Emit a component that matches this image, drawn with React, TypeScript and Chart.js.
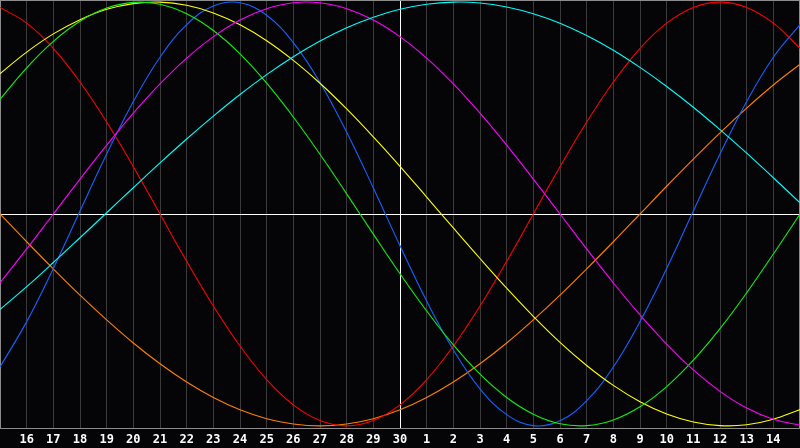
import { useEffect, useRef } from 'react';
import { Chart, registerables } from 'chart.js';

Chart.register(...registerables);

// Day index 0..30 (0 = the 15th of the previous month, 15 = today, the 30th)
const DAY_INDEX = [0, 1, 2, 3, 4, 5, 6, 7, 8, 9, 10, 11, 12, 13, 14, 15, 16, 17, 18, 19, 20, 21, 22, 23, 24, 25, 26, 27, 28, 29, 30];
const DAY_LABELS = ['15', '16', '17', '18', '19', '20', '21', '22', '23', '24', '25', '26', '27', '28', '29', '30', '1', '2', '3', '4', '5', '6', '7', '8', '9', '10', '11', '12', '13', '14', '15'];
const TODAY_INDEX = 15;

// Cycle values (-1 .. 1)
const PHYSICAL = [-0.722, -0.508, -0.257, 0.014, 0.283, 0.531, 0.74, 0.894, 0.982, 0.997, 0.938, 0.809, 0.621, 0.386, 0.123, -0.15, -0.411, -0.641, -0.825, -0.947, -0.999, -0.976, -0.881, -0.722, -0.508, -0.257, 0.014, 0.283, 0.531, 0.74, 0.894];
const EMOTIONAL = [0.975, 0.901, 0.782, 0.623, 0.434, 0.223, 0, -0.223, -0.434, -0.623, -0.782, -0.901, -0.975, -1, -0.975, -0.901, -0.782, -0.623, -0.434, -0.223, 0, 0.223, 0.434, 0.623, 0.782, 0.901, 0.975, 1, 0.975, 0.901, 0.782];
const INTELLECTUAL = [0.541, 0.69, 0.815, 0.91, 0.972, 0.999, 0.99, 0.945, 0.866, 0.756, 0.618, 0.458, 0.282, 0.095, -0.095, -0.282, -0.458, -0.618, -0.756, -0.866, -0.945, -0.99, -0.999, -0.972, -0.91, -0.815, -0.69, -0.541, -0.372, -0.189, 0];
const INTUITIVE = [-0.325, -0.165, 0, 0.165, 0.325, 0.476, 0.614, 0.736, 0.837, 0.916, 0.969, 0.997, 0.997, 0.969, 0.916, 0.837, 0.736, 0.614, 0.476, 0.325, 0.165, 0, -0.165, -0.325, -0.476, -0.614, -0.736, -0.837, -0.916, -0.969, -0.997];
const AESTHETIC = [0.662, 0.764, 0.85, 0.917, 0.966, 0.993, 1, 0.985, 0.949, 0.893, 0.818, 0.725, 0.617, 0.496, 0.364, 0.225, 0.08, -0.066, -0.21, -0.35, -0.483, -0.606, -0.715, -0.809, -0.886, -0.944, -0.982, -0.999, -0.995, -0.969, -0.923];
const AWARENESS = [0, -0.131, -0.259, -0.383, -0.5, -0.609, -0.707, -0.793, -0.866, -0.924, -0.966, -0.991, -1, -0.991, -0.966, -0.924, -0.866, -0.793, -0.707, -0.609, -0.5, -0.383, -0.259, -0.131, 0, 0.131, 0.259, 0.383, 0.5, 0.609, 0.707];
const SPIRITUAL = [-0.451, -0.343, -0.229, -0.112, 0.006, 0.124, 0.241, 0.354, 0.462, 0.564, 0.658, 0.742, 0.816, 0.879, 0.929, 0.966, 0.99, 1, 0.996, 0.977, 0.945, 0.9, 0.842, 0.773, 0.692, 0.602, 0.504, 0.398, 0.287, 0.171, 0.053];

const SERIES = [
  { name: 'Spiritual', values: SPIRITUAL, color: '#00ffff' },
  { name: 'Intuitive', values: INTUITIVE, color: '#ff00ff' },
  { name: 'Intellectual', values: INTELLECTUAL, color: '#10f010' },
  { name: 'Aesthetic', values: AESTHETIC, color: '#ffff00' },
  { name: 'Emotional', values: EMOTIONAL, color: '#ff0000' },
  { name: 'Physical', values: PHYSICAL, color: '#1464ff' },
  { name: 'Awareness', values: AWARENESS, color: '#ff8000' },
];

const framePlugin = {
  id: 'frame',
  beforeDatasetsDraw(chart: any) {
    const { ctx, chartArea } = chart;
    ctx.save();
    ctx.strokeStyle = '#8c8c8c';
    ctx.lineWidth = 1;
    ctx.strokeRect(chartArea.left + 0.5, chartArea.top + 0.5, chartArea.right - chartArea.left - 1, chartArea.bottom - chartArea.top);
    ctx.restore();
  },
};

export default function App() {
  const canvasRef = useRef<HTMLCanvasElement | null>(null);

  useEffect(() => {
    document.body.style.margin = '0';
    const canvas = canvasRef.current;
    if (!canvas) return;
    const chart = new Chart(canvas, {
      type: 'line',
      data: {
        datasets: SERIES.map((s) => ({
          label: s.name,
          data: DAY_INDEX.map((x, k) => ({ x, y: s.values[k] })),
          borderColor: s.color,
          borderWidth: 1.1,
          pointRadius: 0,
          fill: false,
          tension: 0.4,
        })),
      },
      options: {
        animation: false,
        responsive: false,
        maintainAspectRatio: false,
        layout: { padding: 0 },
        plugins: { legend: { display: false }, tooltip: { enabled: false } },
        scales: {
          x: {
            type: 'linear',
            min: 0,
            max: 30,
            afterFit: (s: any) => {
              s.height = 20;
              s.paddingLeft = 0;
              s.paddingRight = 0;
            },
            border: { display: false },
            grid: {
              drawTicks: false,
              lineWidth: 1,
              color: (ctx: any) => {
                const v = ctx.tick ? ctx.tick.value : -1;
                if (v === TODAY_INDEX) return '#ffffff';
                if (v === 0 || v === 30) return 'rgba(0,0,0,0)';
                return '#3a3a3a';
              },
            },
            ticks: {
              stepSize: 1,
              autoSkip: false,
              maxRotation: 0,
              minRotation: 0,
              padding: 5,
              color: '#ffffff',
              font: { family: '"DejaVu Sans Mono", monospace', size: 12, weight: 'bold' },
              callback: (value: any) => {
                const i = Math.round(Number(value));
                if (i <= 0 || i >= 30) return '';
                return DAY_LABELS[i];
              },
            },
          },
          y: {
            type: 'linear',
            min: -1.01,
            max: 1.01,
            afterFit: (s: any) => {
              s.width = 0;
              s.paddingTop = 0;
              s.paddingBottom = 0;
            },
            afterBuildTicks: (s: any) => {
              s.ticks = [{ value: 0 }];
            },
            border: { display: false },
            grid: { drawTicks: false, color: '#ffffff', lineWidth: 1 },
            ticks: { display: false },
          },
        },
      },
      plugins: [framePlugin],
    });
    return () => chart.destroy();
  }, []);

  return (
    <div style={{ width: 800, height: 448, background: '#050508' }}>
      <canvas ref={canvasRef} width={800} height={448} style={{ display: 'block' }} />
    </div>
  );
}
